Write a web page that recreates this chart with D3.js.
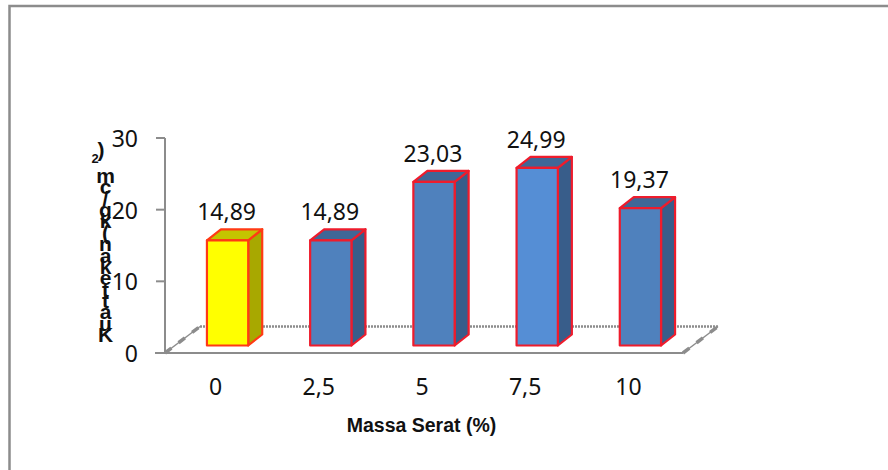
<!DOCTYPE HTML>
<html>
<head>
<meta charset="utf-8">
<title>Massa Serat</title>
<script src="https://d3js.org/d3.v7.min.js"></script>
<style>
  html, body { margin: 0; background: #fff; }
  svg { display: block; }
  text { font-family: "Noto Sans", "Liberation Sans", sans-serif; fill: #111; }
  text.bold { font-family: "Liberation Sans", Arial, sans-serif; font-weight: bold; }
</style>
</head>
<body>
<svg id="chart" width="888" height="470"></svg>
<script>
const categories = ["0", "2,5", "5", "7,5", "10"];
const values = [14.89, 14.89, 23.03, 24.99, 19.37];
const valueLabels = ["14,89", "14,89", "23,03", "24,99", "19,37"];
const yTicks = [0, 10, 20, 30];
const yTitle = "Kuat tekan (kg/cm";

const svg = d3.select("#chart");

// frame
svg.append("path")
    .attr("d", "M9.5,470V6H888")
    .attr("fill", "none").attr("stroke", "#8c8c8c").attr("stroke-width", 2.5);

const x = d3.scaleBand().domain(categories).range([164, 704]).paddingInner(0.6).paddingOuter(0.416);
const y = d3.scaleLinear().domain([0, 30]).range([353, 138]);

const depthX = 14, depthY = 11, baseLift = 7.5, topLift = 6;
const grey = "#8c8c8c";

// floor
const floorY = y(0), backY = 326.5;
svg.append("line").attr("x1", 200).attr("x2", 718).attr("y1", backY).attr("y2", backY)
    .attr("stroke", grey).attr("stroke-width", 2.5).attr("stroke-dasharray", "2 1");
[[165, 200], [683, 718]].forEach(e => {
  svg.append("line").attr("x1", e[0]).attr("x2", e[1]).attr("y1", floorY).attr("y2", backY)
      .attr("stroke", grey).attr("stroke-width", 1.5);
  svg.append("line").attr("x1", e[0]).attr("x2", e[1]).attr("y1", floorY).attr("y2", backY)
      .attr("stroke", grey).attr("stroke-width", 3.5).attr("stroke-dasharray", "8 9");
});
svg.append("line").attr("x1", 155).attr("x2", 683).attr("y1", floorY).attr("y2", floorY)
    .attr("stroke", grey).attr("stroke-width", 2);
svg.append("line").attr("x1", 165).attr("x2", 165).attr("y1", y(30)).attr("y2", floorY)
    .attr("stroke", grey).attr("stroke-width", 2);

svg.append("g").selectAll("line").data(yTicks).join("line")
    .attr("x1", 156).attr("x2", 165)
    .attr("y1", d => y(d)).attr("y2", d => y(d))
    .attr("stroke", grey).attr("stroke-width", 2);
svg.append("g").selectAll("text").data(yTicks).join("text")
    .attr("x", 138).attr("y", d => y(d) + 9)
    .attr("text-anchor", "end").attr("font-size", 23)
    .text(d => d);

// bars
const faces = [
  { front: "#ffff00", top: "#c4c400", side: "#a8a800", edge: "#ff3a14" },
  { front: "#4f81bd", top: "#3f6797", side: "#385d8a", edge: "#ee1c2c" },
  { front: "#4f81bd", top: "#3f6797", side: "#385d8a", edge: "#ee1c2c" },
  { front: "#558ed5", top: "#3f6797", side: "#385d8a", edge: "#ee1c2c" },
  { front: "#4f81bd", top: "#3f6797", side: "#385d8a", edge: "#ee1c2c" }
];
const bars = svg.append("g").selectAll("g").data(values).join("g");
bars.each(function(d, i) {
  const g = d3.select(this);
  const x0 = x(categories[i]), x1 = x0 + x.bandwidth();
  const top = y(d) - topLift, bot = y(0) - baseLift;
  const f = faces[i];
  const add = (dd, fill) => {
    g.append("path").attr("d", dd).attr("fill", fill)
        .attr("stroke", f.edge).attr("stroke-width", 2.2).attr("stroke-linejoin", "round");
  };
  add(`M${x1},${bot}V${top}L${x1 + depthX},${top - depthY}V${bot - depthY}Z`, f.side);
  add(`M${x0},${top}L${x0 + depthX},${top - depthY}H${x1 + depthX}L${x1},${top}Z`, f.top);
  add(`M${x0},${bot}V${top}H${x1}V${bot}Z`, f.front);
  g.append("text")
    .attr("x", (x0 + x1) / 2 - 1).attr("y", top - 20)
    .attr("text-anchor", "middle").attr("font-size", 23)
    .text(valueLabels[i]);
});

// category labels
svg.append("g").selectAll("text").data(categories).join("text")
    .attr("x", d => x(d) + x.bandwidth() / 2 - 12)
    .attr("y", 395)
    .attr("text-anchor", "middle").attr("font-size", 23)
    .text(d => d);

// axis title
svg.append("text").attr("class", "bold")
    .attr("x", 421.5).attr("y", 432)
    .attr("text-anchor", "middle").attr("font-size", 19.5)
    .text("Massa Serat (%)");

// y title: stacked letters, overlapping as in the picture
const letters = Array.from(yTitle).filter(c => c !== " ");
const titleY = d3.scalePoint().domain(d3.range(letters.length)).range([342, 183]);
svg.append("g").selectAll("text").data(letters).join("text").attr("class", "bold")
    .attr("x", 105.5).attr("y", (d, i) => titleY(i))
    .attr("text-anchor", "middle").attr("font-size", 21)
    .text(d => d);
svg.append("text").attr("class", "bold").attr("x", 95).attr("y", 163).attr("font-size", 13).attr("text-anchor", "middle").text("2");
svg.append("text").attr("class", "bold").attr("x", 101).attr("y", 157).attr("font-size", 21).attr("text-anchor", "middle").text(")");
</script>
</body>
</html>
